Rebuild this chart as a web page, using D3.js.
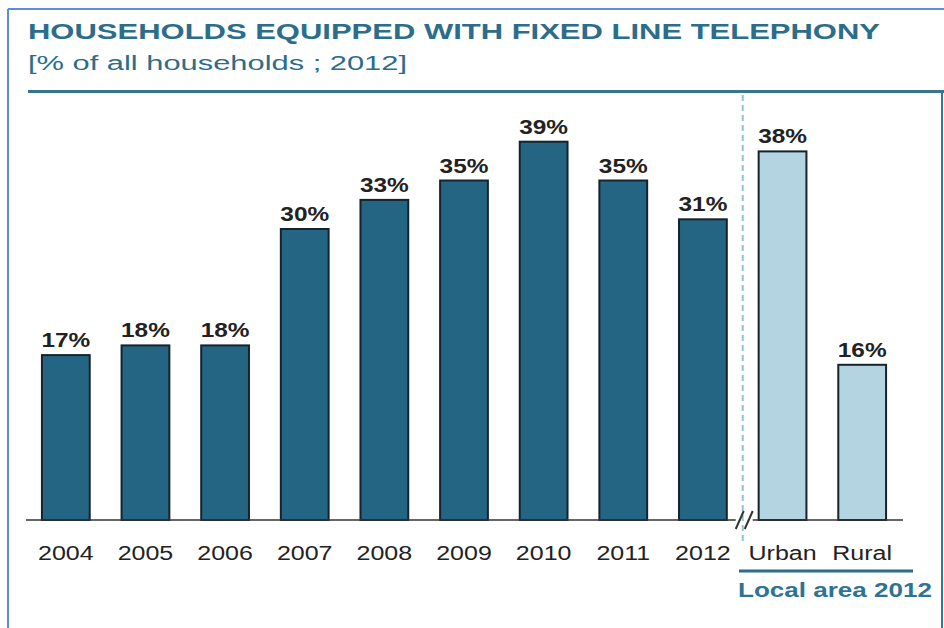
<!DOCTYPE html>
<html><head><meta charset="utf-8">
<script src="https://cdn.jsdelivr.net/npm/d3@7"></script>
<style>html,body{margin:0;padding:0;background:#fff;}svg{display:block;}</style>
</head><body>
<svg id="c" width="944" height="628"></svg>
<script>
const categories = ["2004","2005","2006","2007","2008","2009","2010","2011","2012","Urban","Rural"];
const values = [17,18,18,30,33,35,39,35,31,38,16];
const groups = ["year","year","year","year","year","year","year","year","year","local","local"];
const title = "HOUSEHOLDS EQUIPPED WITH FIXED LINE TELEPHONY";
const subtitle = "[% of all households ; 2012]";
const groupLabel = "Local area 2012";

const svg = d3.select("#c");
const teal = "#2c6d8b";
const font = "'Liberation Sans', Arial, sans-serif";

// frame
svg.append("line").attr("x1",8).attr("x2",944).attr("y1",9).attr("y2",9).attr("stroke","#5b8ed8").attr("stroke-width",2);
svg.append("line").attr("x1",8).attr("x2",8).attr("y1",9).attr("y2",628).attr("stroke","#5b8ed8").attr("stroke-width",2);

svg.append("text").attr("x",28).attr("y",39).text(title)
  .attr("font-family",font).attr("font-weight","bold").attr("font-size",22)
  .attr("fill",teal).attr("textLength",852).attr("lengthAdjust","spacingAndGlyphs");
svg.append("text").attr("x",28).attr("y",70).text(subtitle)
  .attr("font-family",font).attr("font-size",20)
  .attr("fill",teal).attr("textLength",379).attr("lengthAdjust","spacingAndGlyphs");

svg.append("line").attr("x1",28).attr("x2",944).attr("y1",91.5).attr("y2",91.5).attr("stroke","#3a7590").attr("stroke-width",3);
svg.append("line").attr("x1",942).attr("x2",942).attr("y1",91).attr("y2",628).attr("stroke","#3a7590").attr("stroke-width",2);

const x = d3.scaleBand().domain(categories).range([26,902]).paddingInner(0.4).paddingOuter(0.2);
const y = d3.scaleLinear().domain([0,40]).range([520,132]);

// dashed separator
const sepX = (x("2012") + x.bandwidth() + x("Urban"))/2;
svg.append("line").attr("x1",sepX).attr("x2",sepX).attr("y1",95).attr("y2",545)
  .attr("stroke","#8ec3d8").attr("stroke-width",2).attr("stroke-dasharray","6,4");

const data = categories.map((c,i)=>({c, v: values[i], g: groups[i]}));

svg.append("g").selectAll("rect").data(data).join("rect")
  .attr("x",d=>x(d.c)).attr("width",x.bandwidth())
  .attr("y",d=>y(d.v)).attr("height",d=>y(0)-y(d.v))
  .attr("fill",d=>d.g==="year"?"#246584":"#b3d4e0")
  .attr("stroke","#16232b").attr("stroke-width",2);

svg.append("g").selectAll("text").data(data).join("text")
  .attr("transform",d=>`translate(${x(d.c)+x.bandwidth()/2},${y(d.v)-8}) scale(1.22,1)`)
  .attr("text-anchor","middle").attr("font-family",font).attr("font-weight","bold")
  .attr("font-size",20).attr("fill","#222").text(d=>d.v+"%");

// axis
const axisG = svg.append("g").attr("transform",`translate(0,${y(0)})`)
  .call(d3.axisBottom(x).tickSize(0).tickPadding(0));
axisG.select(".domain").remove();
axisG.selectAll("text").attr("font-family",font).attr("font-size",20).attr("fill","#222")
  .attr("dy",0).attr("y",40).attr("transform","scale(1.25,1)");
axisG.selectAll(".tick").attr("transform",d=>`translate(${x(d)+x.bandwidth()/2},0)`);

const brk = sepX;
svg.append("line").attr("x1",26).attr("x2",brk-7).attr("y1",520).attr("y2",520).attr("stroke","#333").attr("stroke-width",1.5);
svg.append("line").attr("x1",brk+10).attr("x2",903).attr("y1",520).attr("y2",520).attr("stroke","#333").attr("stroke-width",1.5);
[-3,6].forEach(o=>{
  svg.append("line").attr("x1",brk+o-4).attr("x2",brk+o+4).attr("y1",529).attr("y2",511).attr("stroke","#333").attr("stroke-width",2);
});

// group label
svg.append("line").attr("x1",739).attr("x2",913).attr("y1",571).attr("y2",571).attr("stroke",teal).attr("stroke-width",3);
svg.append("text").attr("x",738).attr("y",597).text(groupLabel)
  .attr("font-family",font).attr("font-weight","bold").attr("font-size",20)
  .attr("fill","#2f7394").attr("textLength",194).attr("lengthAdjust","spacingAndGlyphs");
</script>
</body></html>
